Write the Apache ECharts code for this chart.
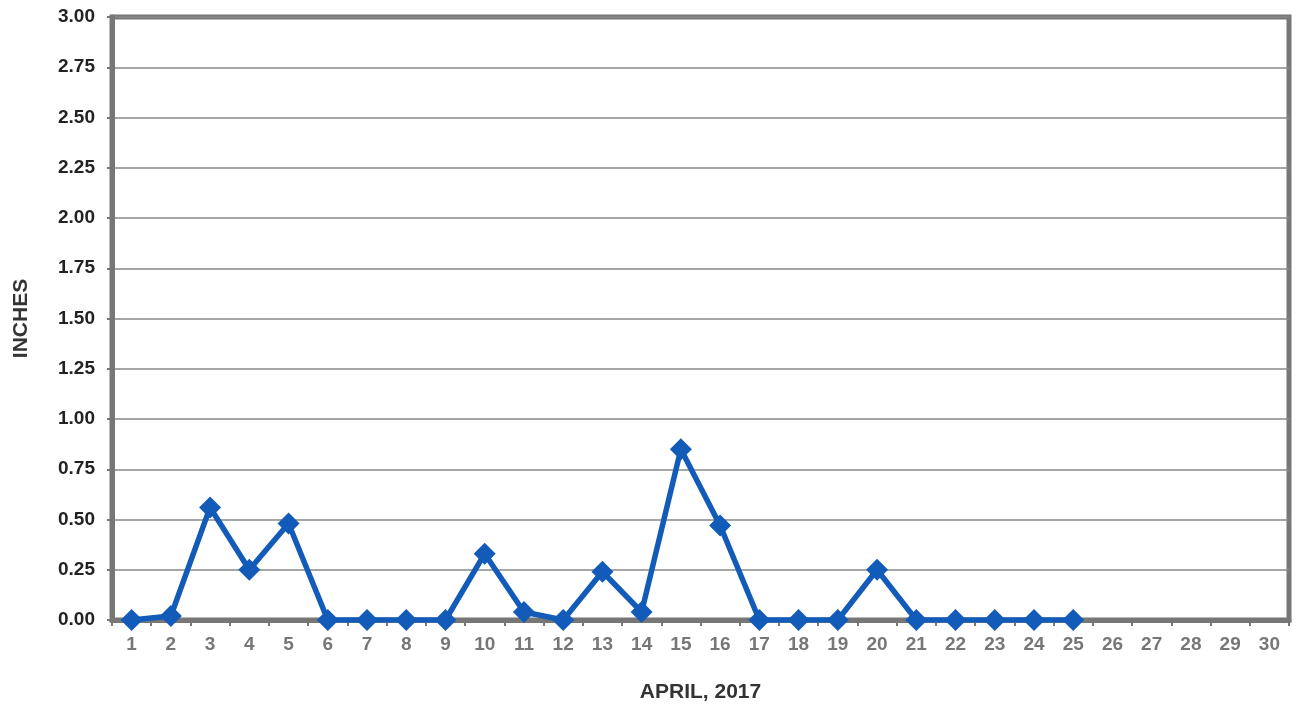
<!DOCTYPE html>
<html>
<head>
<meta charset="utf-8">
<script src="https://cdn.jsdelivr.net/npm/echarts@6/dist/echarts.min.js"></script>
<style>html,body{margin:0;padding:0;background:#fff;}#c{width:1299px;height:711px;}</style>
</head>
<body>
<div id="c"></div>
<script>
const days = ['1','2','3','4','5','6','7','8','9','10','11','12','13','14','15','16','17','18','19','20','21','22','23','24','25','26','27','28','29','30'];
const rainfall = [0,0.02,0.56,0.25,0.48,0,0,0,0,0.33,0.04,0,0.24,0.04,0.85,0.47,0,0,0,0.25,0,0,0,0,0,null,null,null,null,null];
const yTicks = {min:0, max:3, interval:0.25};
const xTitle = 'APRIL, 2017';
const yTitle = 'INCHES';

const chart = echarts.init(document.getElementById('c'));
chart.setOption({
  animation:false,
  backgroundColor:'#fff',
  grid:{left:112,right:10,top:17,bottom:91,outerBoundsMode:'none',containLabel:false,show:true,borderColor:'#777',borderWidth:5,backgroundColor:'transparent'},
  xAxis:{
    type:'category',data:days,boundaryGap:true,
    name:xTitle,nameLocation:'middle',nameGap:62,
    nameTextStyle:{fontFamily:'Liberation Sans',fontWeight:'bold',fontSize:21,color:'#333'},
    axisLine:{show:true,lineStyle:{color:'#777',width:5}},
    axisTick:{show:true,alignWithLabel:false,length:6,lineStyle:{color:'#777',width:2}},
    axisLabel:{fontFamily:'Liberation Sans',fontSize:19,fontWeight:'bold',color:'#777',margin:15}
  },
  yAxis:{
    type:'value',min:yTicks.min,max:yTicks.max,interval:yTicks.interval,
    name:yTitle,nameLocation:'middle',nameGap:80,nameRotate:90,
    nameTextStyle:{fontFamily:'Liberation Sans',fontWeight:'bold',fontSize:21,color:'#333'},
    axisLine:{show:true,lineStyle:{color:'#777',width:5}},
    axisTick:{show:true,length:5,lineStyle:{color:'#777',width:2}},
    axisLabel:{fontFamily:'Liberation Sans',fontSize:19,fontWeight:'bold',color:'#222',margin:17,formatter:v=>v.toFixed(2)},
    splitLine:{show:true,lineStyle:{color:'#888',width:1.5}}
  },
  series:[{
    type:'line',data:rainfall,
    symbol:'diamond',symbolSize:22,
    lineStyle:{color:'#135bb8',width:5.5},
    itemStyle:{color:'#135bb8'},
    connectNulls:false
  }]
});
</script>
</body>
</html>
